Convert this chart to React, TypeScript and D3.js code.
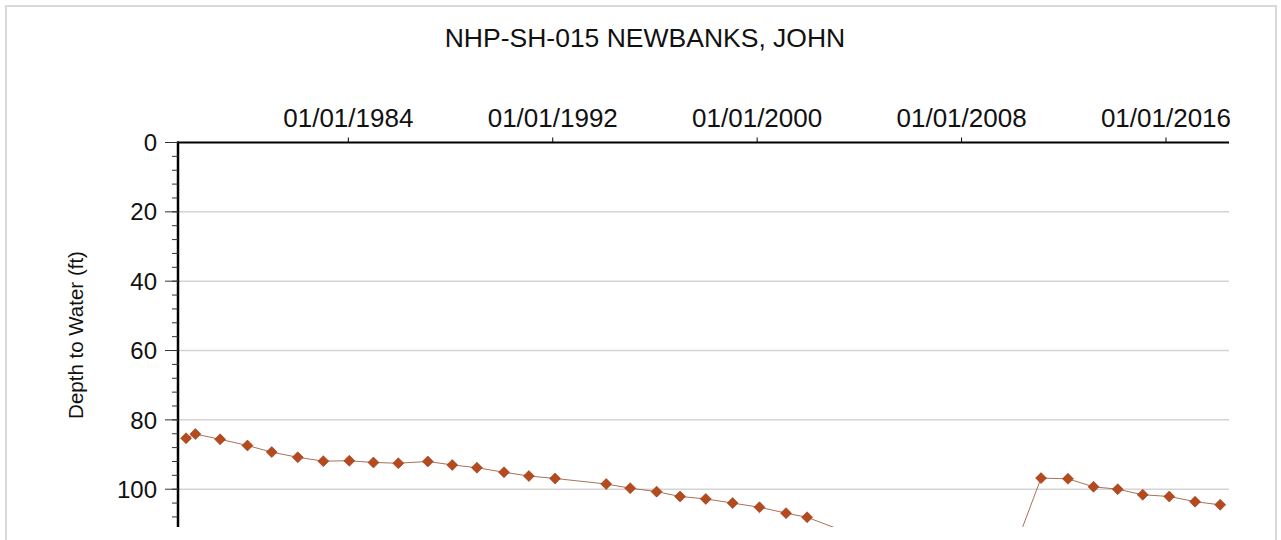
import React from "react";
import * as d3 from "d3";

const title = "NHP-SH-015 NEWBANKS, JOHN";
const yTitle = "Depth to Water (ft)";
const dates = [
  "1977-08-25", "1978-01-05", "1978-12-25", "1980-01-20", "1981-01-01", "1982-01-08",
  "1983-01-08", "1984-01-15", "1984-12-25", "1985-12-15", "1987-02-10", "1988-01-25",
  "1989-01-12", "1990-02-03", "1991-01-25", "1992-02-03", "1994-02-03", "1995-01-12",
  "1996-01-25", "1996-12-25", "1997-12-28", "1999-01-15", "2000-02-03", "2001-02-17",
  "2001-12-15", "2004-01-15", "2010-01-15", "2011-02-10", "2012-03-01", "2013-03-01",
  "2014-02-10", "2015-02-03", "2016-02-17", "2017-02-20", "2018-02-14",
];
const depths = [
  85.3, 84.1, 85.6, 87.4, 89.3, 90.8,
  91.9, 91.8, 92.3, 92.5, 92.0, 93.0,
  93.8, 95.1, 96.2, 96.9, 98.5, 99.7,
  100.7, 102.1, 102.8, 104.0, 105.2, 106.9,
  108.1, 113.9, 117.8, 96.8, 97.0, 99.3,
  100.0, 101.6, 102.1, 103.6, 104.5,
];
const xTickDates = ["1984-01-01", "1992-01-01", "2000-01-01", "2008-01-01", "2016-01-01"];
const xTickLabels = ["01/01/1984", "01/01/1992", "01/01/2000", "01/01/2008", "01/01/2016"];
const yTicks = [0, 20, 40, 60, 80, 100];
const yGrid = [20, 40, 60, 80, 100];

const parse = (s: string) => new Date(s + "T00:00:00Z");

export default function App() {
  const left = 178, right = 1229, top = 142.5, bottom = 527;
  const x = d3.scaleUtc().domain([parse("1977-05-02"), parse("2018-06-20")]).range([left, right]);
  const y = d3.scaleLinear().domain([0, 110.9]).range([top, bottom]);
  const data = dates.map((d, i) => ({ date: parse(d), depth: depths[i] }));
  const line = d3.line<{ date: Date; depth: number }>().x(d => x(d.date)).y(d => y(d.depth));
  const minor = d3.range(0, 111, 4);
  const font = "'Liberation Sans', Arial, sans-serif";
  const diamond = 5.5;

  return (
    <svg width={1281} height={540} style={{ position: "absolute", left: 0, top: 0, background: "#fff" }} fontFamily={font}>
      <defs>
        <clipPath id="plot">
          <rect x={left} y={top - 6} width={right - left + 6} height={bottom - top + 6} />
        </clipPath>
      </defs>
      <rect x={6} y={6} width={1270} height={600} fill="#fff" stroke="#d9d9d9" strokeWidth={2} />
      <text x={645} y={47} textAnchor="middle" fontSize={26.5} fill="#111">{title}</text>
      {yGrid.map(v => (
        <line key={v} x1={left} x2={right} y1={y(v)} y2={y(v)} stroke="#d4d4d4" strokeWidth={1.5} />
      ))}
      <g clipPath="url(#plot)">
        <path d={line(data) || ""} fill="none" stroke="#a87258" strokeWidth={1} />
        {data.map((d, i) => {
          const cx = x(d.date), cy = y(d.depth);
          return (
            <path key={i} d={`M${cx},${cy - diamond}L${cx + diamond},${cy}L${cx},${cy + diamond}L${cx - diamond},${cy}Z`}
              fill="#b44a1e" stroke="#9a3a14" strokeWidth={0.6} />
          );
        })}
      </g>
      {/* top axis */}
      <line x1={left - 1} x2={right} y1={top} y2={top} stroke="#000" strokeWidth={2} />
      {xTickDates.map((d, i) => (
        <g key={d}>
          <line x1={x(parse(d))} x2={x(parse(d))} y1={top} y2={top - 5} stroke="#000" strokeWidth={1} />
          <text x={x(parse(d))} y={127} textAnchor="middle" fontSize={26} fill="#111">{xTickLabels[i]}</text>
        </g>
      ))}
      {/* left axis */}
      <line x1={left} x2={left} y1={top - 1} y2={bottom} stroke="#000" strokeWidth={2.5} />
      {minor.map(v => (
        <line key={v} x1={left - 6} x2={left} y1={y(v)} y2={y(v)} stroke="#333" strokeWidth={1} />
      ))}
      {yTicks.map(v => (
        <g key={v}>
          <line x1={left - 13} x2={left} y1={y(v)} y2={y(v)} stroke="#333" strokeWidth={1} />
          <text x={157} y={y(v)} dy="0.36em" textAnchor="end" fontSize={24} fill="#111">{v}</text>
        </g>
      ))}
      <text transform={`translate(83,335) rotate(-90)`} textAnchor="middle" fontSize={20.5} fill="#111">{yTitle}</text>
    </svg>
  );
}
